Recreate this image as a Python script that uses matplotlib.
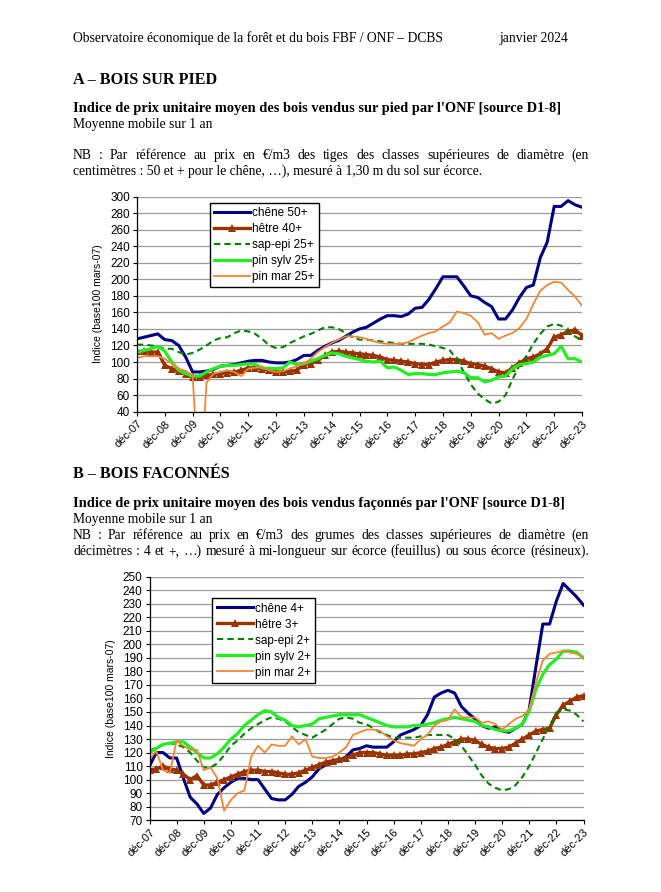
import numpy as np
import matplotlib
matplotlib.use("Agg")
import matplotlib.pyplot as plt

# quarterly points, months counted from déc-07
MONTHS = np.arange(0, 193, 3)
TICK_LABELS = [f"déc-{y:02d}" for y in range(7, 24)]

# A - bois sur pied
A_CHENE = [128, 130, 132, 134, 127, 126, 120, 106, 88, 88, 89, 91, 95, 96, 97, 99,
           101, 102, 102, 100, 99, 99, 100, 103, 108, 108, 114, 119, 123, 126, 131, 136,
           140, 142, 147, 152, 156, 156, 155, 158, 165, 166, 176, 189, 203, 203, 203, 192,
           180, 178, 172, 167, 152, 152, 163, 178, 190, 193, 226, 245, 288, 288, 295, 290, 287]
A_HETRE = [113, 113, 112, 112, 96, 92, 89, 86, 82, 82, 84, 85, 86, 87, 88, 90,
           93, 93, 92, 90, 88, 88, 89, 90, 97, 98, 102, 108, 112, 113, 112, 111,
           110, 109, 108, 106, 103, 102, 101, 100, 98, 97, 97, 100, 102, 103, 103, 101,
           98, 97, 95, 92, 88, 87, 93, 99, 104, 106, 110, 116, 130, 133, 137, 139, 132]
A_SAPEPI = [121, 121, 120, 119, 116, 116, 112, 109, 111, 115, 120, 126, 129, 130, 135, 138,
            137, 134, 128, 120, 117, 118, 123, 127, 131, 134, 138, 142, 142, 140, 135, 130,
            127, 127, 126, 125, 124, 123, 122, 122, 122, 122, 121, 119, 117, 114, 103, 88,
            73, 62, 55, 50, 52, 60, 79, 96, 107, 122, 134, 143, 146, 144, 137, 131, 126]
A_PINSYLV = [112, 114, 116, 119, 113, 100, 90, 86, 83, 83, 88, 92, 95, 96, 96, 97,
             98, 97, 93, 92, 92, 93, 100, 97, 98, 101, 104, 108, 111, 110, 107, 105,
             103, 101, 100, 101, 93, 94, 90, 85, 86, 86, 85, 85, 87, 88, 89, 87,
             81, 81, 76, 78, 82, 83, 92, 97, 98, 100, 106, 108, 110, 119, 104, 104, 100]
A_PINMAR = [105, 107, 107, 107, 104, 98, 92, 89, 84, -60, 75, 86, 88, 90, 88, 83,
            92, 93, 94, 90, 88, 89, 92, 95, 98, 104, 112, 118, 123, 127, 131, 131,
            130, 128, 125, 123, 122, 122, 122, 124, 128, 132, 135, 137, 143, 148, 161, 159,
            156, 148, 133, 135, 128, 132, 135, 141, 152, 170, 186, 193, 197, 196, 187, 179, 168]

# B - bois façonnés
B_CHENE = [110, 120, 120, 116, 116, 101, 87, 82, 75, 79, 89, 94, 98, 101, 101, 100,
           100, 93, 86, 85, 85, 89, 95, 98, 102, 108, 111, 112, 114, 117, 122, 123,
           125, 124, 124, 124, 128, 133, 135, 137, 140, 148, 161, 164, 166, 164, 154, 149,
           145, 140, 138, 139, 136, 135, 138, 141, 152, 184, 215, 215, 232, 245, 240, 235, 229]
B_HETRE = [107, 108, 110, 108, 107, 104, 100, 103, 96, 96, 98, 100, 102, 104, 106, 107,
           107, 106, 106, 105, 104, 104, 105, 107, 109, 111, 113, 114, 115, 116, 118, 120,
           120, 120, 119, 118, 118, 118, 119, 119, 120, 121, 123, 124, 126, 128, 130, 130,
           129, 126, 124, 123, 123, 124, 127, 130, 133, 136, 137, 138, 148, 155, 158, 161, 162]
B_SAPEPI = [121, 124, 126, 127, 126, 124, 120, 114, 109, 109, 112, 118, 125, 129, 134, 138,
            141, 144, 146, 145, 143, 139, 135, 133, 131, 134, 137, 141, 145, 146, 145, 142,
            141, 138, 135, 133, 131, 131, 131, 131, 132, 133, 133, 133, 133, 130, 125, 118,
            111, 103, 97, 94, 92, 93, 96, 102, 110, 120, 130, 140, 149, 152, 151, 148, 143]
B_PINSYLV = [120, 123, 126, 127, 128, 128, 124, 120, 116, 116, 119, 124, 130, 134, 140, 144,
             148, 151, 150, 146, 144, 140, 139, 140, 141, 145, 146, 147, 148, 148, 148, 148,
             146, 144, 142, 140, 139, 139, 139, 140, 140, 141, 142, 144, 145, 146, 145, 144,
             143, 140, 139, 137, 136, 136, 138, 141, 151, 167, 178, 185, 189, 195, 195, 194, 190]
B_PINMAR = [115, 121, 107, 105, 129, 125, 122, 122, 107, 109, 101, 77, 85, 90, 92, 117,
            125, 120, 126, 125, 125, 132, 126, 130, 117, 116, 116, 117, 120, 124, 133, 135,
            137, 137, 136, 132, 129, 127, 126, 125, 130, 133, 140, 143, 144, 152, 146, 146,
            146, 142, 143, 141, 137, 141, 145, 147, 152, 172, 188, 193, 194, 195, 194, 193, 190]

A_NAMES = ["chêne 50+", "hêtre 40+", "sap-epi 25+", "pin sylv 25+", "pin mar 25+"]
B_NAMES = ["chêne 4+", "hêtre 3+", "sap-epi 2+", "pin sylv 2+", "pin mar 2+"]

W, H = 661, 892
SERIF = "Liberation Serif"
SANS = "Liberation Sans"
BODY = 9.8
BOLD = 10.35

STYLES = [
    dict(color="#000080", lw=2.2),
    dict(color="#993300", lw=2.4, marker="^", ms=6, markeredgewidth=0),
    dict(color="#008000", lw=1.5, ls=(0, (3, 2))),
    dict(color="#22ee22", lw=2.3),
    dict(color="#f58535", lw=1.3),
]

fig = plt.figure(figsize=(W / 100, H / 100), dpi=100)


def fx(x):
    return x / W


def fy(y):
    return 1 - y / H


def text(x, y, s, **kw):
    # y is the visual line centre, drawn on a baseline 4 px below
    kw.setdefault("family", SERIF)
    kw.setdefault("fontsize", BODY)
    fig.text(fx(x), fy(y + 4), s, va="baseline", ha="left", **kw)


def justified(x0, x1, y, s, **kw):
    kw.setdefault("family", SERIF)
    kw.setdefault("fontsize", BODY)
    renderer = fig.canvas.get_renderer()
    words = s.split(" ")
    arts = [fig.text(0, fy(y + 4), w, va="baseline", ha="left", **kw) for w in words]
    widths = [a.get_window_extent(renderer).width for a in arts]
    gap = (x1 - x0 - sum(widths)) / (len(words) - 1)
    x = x0
    for a, wd in zip(arts, widths):
        a.set_x(fx(x))
        x += wd + gap


text(73, 38, "Observatoire économique de la forêt et du bois FBF / ONF – DCBS")
text(499, 38, "janvier 2024")

text(73, 80, "A – BOIS SUR PIED", fontsize=11.6, weight="bold")
text(73, 108, "Indice de prix unitaire moyen des bois vendus sur pied par l'ONF [source D1-8]",
     fontsize=BOLD, weight="bold")
text(73, 124, "Moyenne mobile sur 1 an")
justified(73, 589, 155, "NB : Par référence au prix en €/m3 des tiges des classes "
          "supérieures de diamètre (en")
text(73, 171, "centimètres : 50 et + pour le chêne, …), mesuré à 1,30 m du sol sur écorce.")

text(73, 474, "B – BOIS FACONNÉS", fontsize=11.6, weight="bold")
text(73, 503, "Indice de prix unitaire moyen des bois vendus façonnés par l'ONF [source D1-8]",
     fontsize=BOLD, weight="bold")
text(73, 519, "Moyenne mobile sur 1 an")
justified(73, 589, 535, "NB : Par référence au prix en €/m3 des grumes des classes "
          "supérieures de diamètre (en")
justified(73, 589, 551, "décimètres : 4 et +, …) mesuré à mi-longueur sur écorce (feuillus) "
          "ou sous écorce (résineux).")


def draw_chart(rect, series, names, ylim, ystep, legend_xy):
    ax = fig.add_axes(rect)
    for vals, name, st in zip(series, names, STYLES):
        ax.plot(MONTHS, vals, label=name, clip_on=True, **st)
    ax.set_xlim(0, 192)
    ax.set_ylim(*ylim)
    ax.set_yticks(np.arange(ylim[0], ylim[1] + 1, ystep))
    ax.set_xticks(np.arange(0, 193, 12))
    ax.set_xticklabels(TICK_LABELS, rotation=45, ha="right", rotation_mode="anchor",
                       family=SANS, fontsize=8)
    for lab in ax.get_yticklabels():
        lab.set_family(SANS)
        lab.set_fontsize(8.5)
    ax.tick_params(axis="both", direction="out", length=3, width=0.8, pad=2)
    ax.grid(axis="y", color="#9a9a9a", lw=0.9)
    ax.set_axisbelow(True)
    for side in ("top", "right"):
        ax.spines[side].set_visible(False)
    for side in ("left", "bottom"):
        ax.spines[side].set_linewidth(0.9)
    ax.set_ylabel("Indice (base100 mars-07)", family=SANS, fontsize=7.5, labelpad=5)
    leg = ax.legend(loc="upper left", bbox_to_anchor=(fx(legend_xy[0]), fy(legend_xy[1])),
                    bbox_transform=fig.transFigure, borderaxespad=0, frameon=True,
                    fancybox=False, edgecolor="black", framealpha=1, borderpad=0.35,
                    labelspacing=0.34, handlelength=3.1, handletextpad=0.15, numpoints=1,
                    prop={"family": SANS, "size": 8.5})
    leg.get_frame().set_linewidth(1.0)
    return ax


draw_chart([fx(137), fy(411.7), fx(582) - fx(137), fy(196.5) - fy(411.7)],
           [A_CHENE, A_HETRE, A_SAPEPI, A_PINSYLV, A_PINMAR], A_NAMES, (40, 300), 20,
           (209.5, 203))
draw_chart([fx(149.5), fy(820.2), fx(583.5) - fx(149.5), fy(576.7) - fy(820.2)],
           [B_CHENE, B_HETRE, B_SAPEPI, B_PINSYLV, B_PINMAR], B_NAMES, (70, 250), 10,
           (212.5, 598.4))

fig.savefig("out.png", dpi=100)
